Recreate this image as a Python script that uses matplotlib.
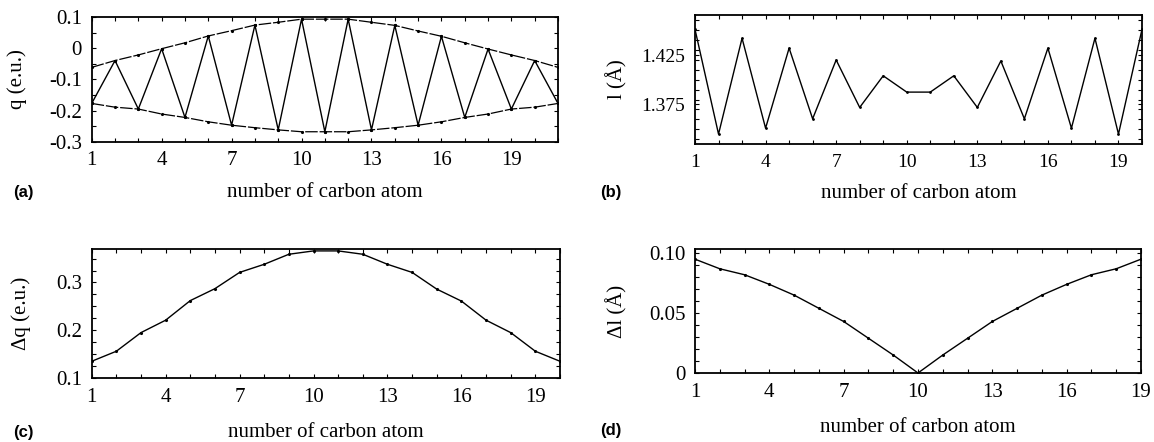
import numpy as np
import matplotlib
matplotlib.use("Agg")
import matplotlib.pyplot as plt
from matplotlib.ticker import MultipleLocator, FixedLocator

# (a) atomic charges along the chain
atom_a = list(range(1, 22))
q_zig = [-0.177, -0.039, -0.195, -0.001, -0.222, 0.040, -0.247, 0.075, -0.262, 0.094, -0.268,
         0.094, -0.262, 0.074, -0.247, 0.039, -0.222, -0.002, -0.195, -0.039, -0.177]
q_upper = [-0.061, -0.039, -0.021, -0.001, 0.018, 0.040, 0.057, 0.075, 0.084, 0.094, 0.094,
           0.094, 0.084, 0.074, 0.056, 0.039, 0.018, -0.002, -0.021, -0.039, -0.061]
q_lower = [-0.177, -0.189, -0.195, -0.211, -0.222, -0.236, -0.247, -0.255, -0.262, -0.268, -0.268,
           -0.268, -0.262, -0.255, -0.247, -0.236, -0.222, -0.211, -0.195, -0.189, -0.177]

# (b) bond lengths
atom_b = list(range(1, 21))
bond_l = [1.451, 1.345, 1.442, 1.351, 1.432, 1.3605, 1.420, 1.372, 1.404, 1.3875,
          1.3875, 1.404, 1.372, 1.419, 1.3605, 1.432, 1.351, 1.442, 1.345, 1.451]

# (c) charge alternation
atom_c = list(range(1, 21))
dq = [0.135, 0.156, 0.195, 0.221, 0.262, 0.287, 0.321, 0.338, 0.359, 0.366,
      0.366, 0.359, 0.338, 0.321, 0.286, 0.261, 0.221, 0.195, 0.156, 0.135]

# (d) bond length alternation
atom_d = list(range(1, 20))
dl = [0.095, 0.087, 0.082, 0.074, 0.065, 0.054, 0.043, 0.029, 0.015, 0.0,
      0.015, 0.029, 0.043, 0.054, 0.065, 0.074, 0.082, 0.087, 0.095]

xticks = [1, 4, 7, 10, 13, 16, 19]
yt_a = [0.1, 0, -0.1, -0.2, -0.3]
yl_a = ["0.1", "0", "-0.1", "-0.2", "-0.3"]
yt_b = [1.425, 1.375]
yl_b = ["1.425", "1.375"]
yt_c = [0.1, 0.2, 0.3]
yl_c = ["0.1", "0.2", "0.3"]
yt_d = [0, 0.05, 0.10]
yl_d = ["0", "0.05", "0.10"]

serif = "Liberation Serif"
fs = 15
W, H = 1154, 442

fig = plt.figure(figsize=(W / 100, H / 100), dpi=100)


def box(l, t, r, b):
    return fig.add_axes([l / W, 1 - b / H, (r - l) / W, (b - t) / H])


def style(ax, xmax, yt, yl, ymin, ymax, yminor, tfs=fs):
    ax.set_xlim(1, xmax)
    ax.set_ylim(ymin, ymax)
    ax.xaxis.set_major_locator(FixedLocator(xticks))
    ax.xaxis.set_minor_locator(MultipleLocator(1))
    ax.set_yticks(yt)
    ax.set_yticklabels(yl)
    ax.yaxis.set_minor_locator(MultipleLocator(yminor))
    ax.tick_params(which="both", direction="in", top=True, right=True,
                   length=3, width=0.8, labelsize=tfs, pad=7)
    for lab in ax.get_xticklabels() + ax.get_yticklabels():
        lab.set_fontfamily(serif)
    for s in ax.spines.values():
        s.set_linewidth(1.3)


def labels(ax, ylab, yx, xy):
    ax.set_ylabel(ylab, fontsize=fs, family=serif, va="center")
    ax.yaxis.set_label_coords(yx, 0.5)
    ax.set_xlabel("number of carbon atom", fontsize=fs, family=serif, va="center")
    ax.xaxis.set_label_coords(0.5, xy)


# (a)
ax = box(91.7, 17.3, 558, 141.7)
ax.plot(atom_a, q_upper, color="k", lw=0.9, dashes=(10, 1.5), marker=".", ms=2.5)
ax.plot(atom_a, q_lower, color="k", lw=0.9, dashes=(10, 1.5), marker=".", ms=2.5)
ax.plot(atom_a, q_zig, color="k", lw=1.0, marker=".", ms=2.5)
style(ax, 21, yt_a, yl_a, -0.3, 0.1, 0.05)
labels(ax, "q (e.u.)", -0.16, -0.41)
fig.text(13 / W, 1 - 193 / H, "(a)", fontsize=12, weight="bold", family="Liberation Sans", va="center")

# (b)
ax = box(695, 15, 1142, 144)
ax.plot(atom_b, bond_l, color="k", lw=1.0, marker=".", ms=2)
style(ax, 20, yt_b, yl_b, 1.335, 1.4655, 0.01, tfs=14)
labels(ax, "l (Å)", -0.175, -0.38)
fig.text(600 / W, 1 - 193 / H, "(b)", fontsize=12, weight="bold", family="Liberation Sans", va="center")

# (c)
ax = box(91.7, 249, 560, 378)
ax.plot(atom_c, dq, color="k", lw=1.0, marker=".", ms=2.5)
style(ax, 20, yt_c, yl_c, 0.1, 0.37, 0.025)
labels(ax, "Δq (e.u.)", -0.15, -0.42)
fig.text(13 / W, 1 - 432 / H, "(c)", fontsize=12, weight="bold", family="Liberation Sans", va="center")

# (d)
ax = box(695, 249, 1141, 373)
ax.plot(atom_d, dl, color="k", lw=1.0, marker=".", ms=2.5)
style(ax, 19, yt_d, yl_d, 0, 0.1035, 0.01)
labels(ax, "Δl (Å)", -0.175, -0.44)
fig.text(600 / W, 1 - 430 / H, "(d)", fontsize=12, weight="bold", family="Liberation Sans", va="center")

fig.savefig("out.png", dpi=100)
